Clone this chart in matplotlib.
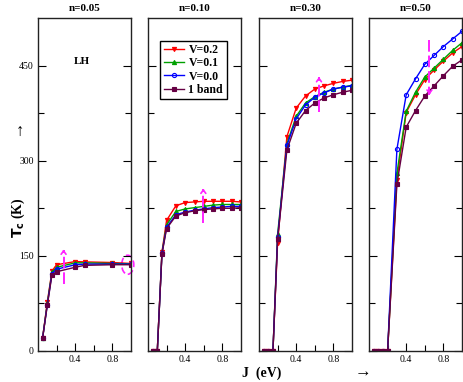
import matplotlib
matplotlib.use('Agg')
import matplotlib.pyplot as plt
from matplotlib.patches import Ellipse
import numpy as np

plt.rcParams['font.family'] = ['Liberation Serif', 'DejaVu Serif']

titles = ['n=0.05', 'n=0.10', 'n=0.30', 'n=0.50']
labels = ['V=0.2', 'V=0.1', 'V=0.0', '1 band']

# J values and Tc values for each panel: [V=0.2, V=0.1, V=0.0, 1 band]
J1 = [0.05, 0.1, 0.15, 0.2, 0.4, 0.5, 0.8, 1.0]
T1 = [[21, 77, 126, 136, 141, 140.5, 139.5, 138],
      [21, 75, 124, 132, 139, 139, 138, 137.5],
      [21, 73, 122, 129, 136, 137, 137, 137],
      [21, 72, 120, 125, 132, 135, 136, 136]]

J2 = [0.05, 0.1, 0.15, 0.2, 0.3, 0.4, 0.5, 0.6, 0.7, 0.8, 0.9, 1.0]
T2 = [[0, 0, 156, 206, 229, 234, 235, 236, 236, 236, 236, 235],
      [0, 0, 155, 199, 220, 224, 226, 228, 230, 231, 231, 231],
      [0, 0, 154, 195, 215, 219, 222, 224, 226, 227, 228, 228],
      [0, 0, 153, 193, 213, 218, 221, 223, 224, 225, 225, 226]]

J3 = [0.05, 0.1, 0.15, 0.2, 0.3, 0.4, 0.5, 0.6, 0.7, 0.8, 0.9, 1.0]
T3 = [[0, 0, 0, 171, 338, 383, 402, 413, 418, 422, 425, 427],
      [0, 0, 0, 184, 327, 370, 391, 401, 408, 413, 416, 419],
      [0, 0, 0, 179, 324, 366, 388, 400, 407, 413, 416, 418],
      [0, 0, 0, 176, 317, 359, 379, 391, 399, 404, 408, 411]]

J4 = [0.05, 0.1, 0.15, 0.2, 0.3, 0.4, 0.5, 0.6, 0.7, 0.8, 0.9, 1.0]
T4 = [[0, 0, 0, 0, 270, 376, 404, 428, 443, 457, 470, 480],
      [0, 0, 0, 0, 280, 378, 408, 432, 446, 460, 474, 486],
      [0, 0, 0, 0, 318, 404, 429, 452, 466, 480, 492, 504],
      [0, 0, 0, 0, 263, 353, 379, 402, 418, 434, 449, 459]]

# magenta dashed arrows: (J, start Tc, end Tc)
arrows = [(0.275, 106, 160), (0.595, 202, 256), (0.645, 377, 432), (0.65, 491, 404)]

colors = ['#ff0000', '#00a000', '#0000ff', '#660044']
markers = ['v', '^', 'o', 's']
pink = '#ff22ff'

fig = plt.figure(figsize=(4.63, 3.82), dpi=100)
lefts = [38, 148, 259, 369]
data = [(J1, T1), (J2, T2), (J3, T3), (J4, T4)]

for i in range(4):
    ax = fig.add_axes([lefts[i] / 463, 1 - 351 / 382, 93 / 463, 333 / 382])
    J, T = data[i]
    for k in range(4):
        face = 'none' if markers[k] == 'o' else colors[k]
        ax.plot(J, T[k], color=colors[k], marker=markers[k], ms=3,
                mfc=face, mec=colors[k], mew=0.8, lw=1, label=labels[k])
    ax.set_xlim(0, 1)
    ax.set_ylim(0, 525)
    ax.set_xticks([0.4, 0.8])
    ax.set_xticks([0.2, 0.6], minor=True)
    ax.set_xticklabels(['0.4', '0.8'])
    ax.set_yticks([0, 150, 300, 450])
    ax.set_yticks([75, 225, 375], minor=True)
    ax.tick_params(which='both', direction='in', left=True, right=True, top=False,
                   labelsize=7, pad=3, width=0.8)
    ax.tick_params(which='major', length=6)
    ax.tick_params(which='minor', length=4)
    if i > 0:
        ax.set_yticklabels([])
    for s in ax.spines.values():
        s.set_linewidth(1)
        s.set_color('#222222')
    ax.set_title(titles[i], fontsize=8, fontweight='bold', pad=5)

    # dashed shaft plus a small open head
    a = arrows[i]
    ax.plot([a[0], a[0]], [a[1], a[2]], color=pink, lw=1.4, dashes=(6, 2))
    step = 4 if a[2] > a[1] else -4
    ax.annotate('', xy=(a[0], a[2]), xytext=(a[0], a[2] - step),
                arrowprops=dict(arrowstyle='->,head_length=0.3,head_width=0.22',
                                color=pink, lw=1.2, shrinkA=0, shrinkB=0,
                                mutation_scale=8))
    if i == 0:
        ax.text(0.47, 456, 'LH', fontsize=8, fontweight='bold', ha='center', va='center')
        ax.add_patch(Ellipse((0.965, 136), 0.13, 30, fill=False, ec=pink,
                             lw=1.2, ls=(0, (4, 2)), clip_on=False))
    if i == 1:
        ax.legend(loc='upper left', bbox_to_anchor=(0.13, 0.932),
                  prop={'weight': 'bold', 'size': 8.5}, labelspacing=0.1,
                  handlelength=1.7, handletextpad=0.4, borderpad=0.3,
                  borderaxespad=0, fancybox=False, framealpha=1, edgecolor='black')

fig.text(18 / 463, 1 - 218 / 382, r'$\mathbf{T_c}$ (K)', rotation=90, fontsize=10,
         fontweight='bold', ha='center', va='center')
fig.text(20 / 463, 1 - 132 / 382, '\u2191', fontsize=12, ha='center', va='center')
fig.text(262 / 463, 1 - 373 / 382, 'J  (eV)', fontsize=10, fontweight='bold',
         ha='center', va='center')
fig.text(363 / 463, 1 - 373 / 382, '\u2192', fontsize=12, ha='center', va='center')

fig.savefig('out.png', dpi=100)
